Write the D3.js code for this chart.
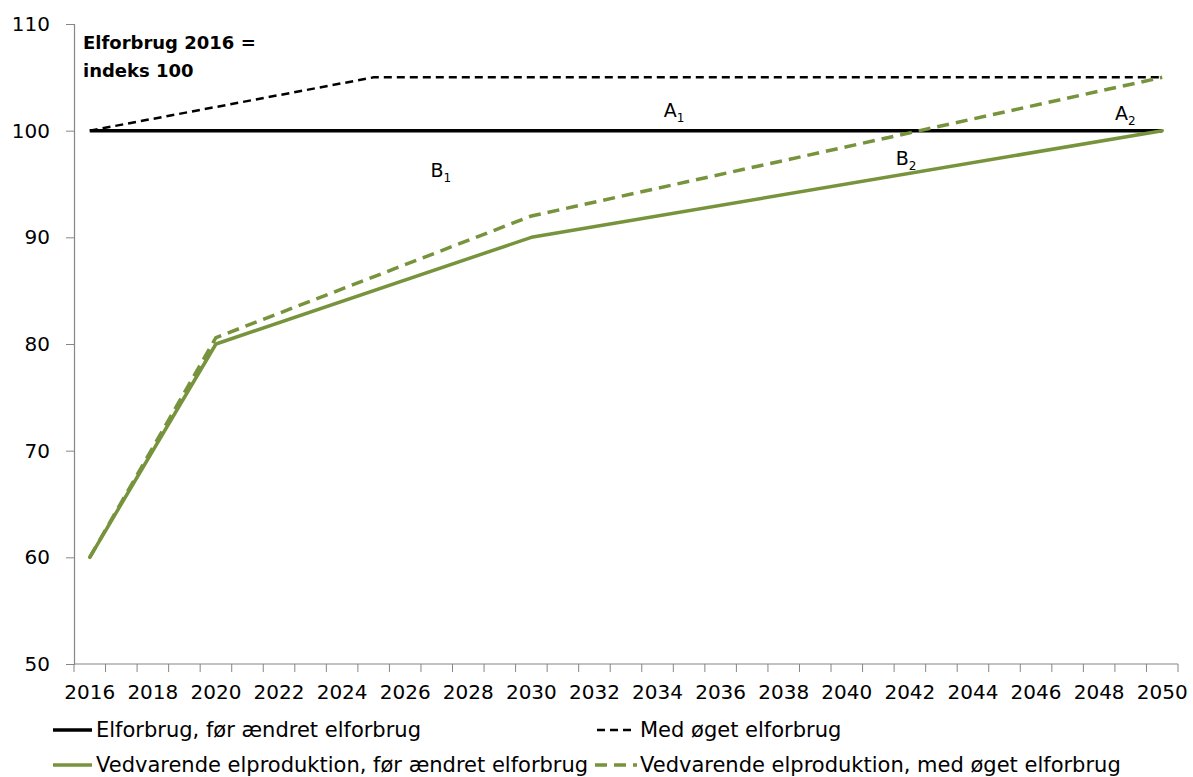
<!DOCTYPE html>
<html>
<head>
<meta charset="utf-8">
<script src="https://cdn.jsdelivr.net/npm/d3@7"></script>
<style>
  html, body { margin: 0; padding: 0; background: #fff; }
  svg { display: block; font-family: "DejaVu Sans", "Open Sans", sans-serif; }
</style>
</head>
<body>
<svg id="chart" width="1193" height="777"></svg>
<script>
// Years on the category axis and which of them carry a label
const years = d3.range(2016, 2051);
const yearLabels = years.filter(y => (y - 2016) % 2 === 0);
const yTicks = [50, 60, 70, 80, 90, 100, 110];

// Series as [year, index] break points; the lines run straight between them
const forbrugFoer = [[2016, 100], [2050, 100]];
const forbrugOeget = [[2016, 100], [2025, 105], [2050, 105]];
const veFoer = [[2016, 60], [2020, 80], [2030, 90], [2050, 100]];
const veOeget = [[2016, 60], [2020, 80.6], [2030, 92], [2050, 105]];

const seriesNames = [
  "Elforbrug, før ændret elforbrug",
  "Med øget elforbrug",
  "Vedvarende elproduktion, før ændret elforbrug",
  "Vedvarende elproduktion, med øget elforbrug"
];

// Area labels: [text, subscript, year, index]
const areaLabels = [
  ["A", "1", 2034.2, 101.3],
  ["B", "1", 2026.8, 95.7],
  ["B", "2", 2041.55, 96.8],
  ["A", "2", 2048.5, 101.0]
];

const green = "#77933C";
const axisGrey = "#868686";
const font = "'DejaVu Sans', sans-serif";

const svg = d3.select("#chart");
const plot = { left: 74, right: 1178, top: 24, bottom: 664 };

const x = d3.scaleBand().domain(years).range([plot.left, plot.right]).paddingInner(0).paddingOuter(0);
const bw = x.bandwidth();
const xc = yr => x(Math.floor(yr)) + bw / 2 + (yr - Math.floor(yr)) * bw;
const y = d3.scaleLinear().domain([50, 110]).range([plot.bottom, plot.top]);

// Y axis
const yAxis = svg.append("g").attr("transform", `translate(${plot.left},0)`)
  .call(d3.axisLeft(y).tickValues(yTicks).tickSize(8).tickPadding(16).tickFormat(d3.format("d")));
yAxis.select(".domain").attr("stroke", axisGrey).attr("stroke-width", 1.2);
yAxis.selectAll(".tick line").attr("stroke", axisGrey);
yAxis.selectAll(".tick text").attr("font-size", 20).attr("fill", "#000")
  .attr("font-family", font);

// X axis: ticks on category boundaries, labels on every other year
const xAxisG = svg.append("g").attr("transform", `translate(0,${plot.bottom})`);
xAxisG.append("line").attr("x1", plot.left).attr("x2", plot.right)
  .attr("stroke", axisGrey).attr("stroke-width", 1.2);
const boundaries = years.map(yr => x(yr)).concat([plot.right]);
xAxisG.selectAll("line.tk").data(boundaries).join("line").attr("class", "tk")
  .attr("x1", d => d).attr("x2", d => d).attr("y1", 0).attr("y2", 8)
  .attr("stroke", axisGrey);
xAxisG.selectAll("text").data(yearLabels).join("text")
  .attr("x", d => xc(d)).attr("y", 35).attr("text-anchor", "middle")
  .attr("font-size", 20).text(d => d);

// Lines
const line = d3.line().x(d => xc(d[0])).y(d => y(d[1]));
svg.append("path").datum(forbrugFoer).attr("d", line)
  .attr("fill", "none").attr("stroke", "#000").attr("stroke-width", 3.5);
svg.append("path").datum(forbrugOeget).attr("d", line)
  .attr("fill", "none").attr("stroke", "#000").attr("stroke-width", 2.5)
  .attr("stroke-dasharray", "8,5");
svg.append("path").datum(veFoer).attr("d", line)
  .attr("fill", "none").attr("stroke", green).attr("stroke-width", 3.5)
  .attr("stroke-linejoin", "round").attr("stroke-linecap", "round");
svg.append("path").datum(veOeget).attr("d", line)
  .attr("fill", "none").attr("stroke", green).attr("stroke-width", 3.5)
  .attr("stroke-dasharray", "12,7");

// Index note
const note = svg.append("text").attr("font-weight", "bold").attr("font-size", 18).attr("fill", "#000");
note.append("tspan").attr("x", 83).attr("y", 49).text("Elforbrug 2016 =");
note.append("tspan").attr("x", 83).attr("y", 77).text("indeks 100");

// Area labels with subscripts
areaLabels.forEach(([t, sub, yr, v]) => {
  const tx = svg.append("text").attr("x", xc(yr)).attr("y", y(v)).attr("font-size", 19).attr("fill", "#000");
  tx.append("tspan").text(t);
  tx.append("tspan").attr("font-size", 12).attr("dy", 5).text(sub);
});

// Legend
const legend = [
  { name: seriesNames[0], color: "#000", dash: null, w: 3.5, x0: 53, x1: 92, tx: 96, y: 730 },
  { name: seriesNames[1], color: "#000", dash: "8,5", w: 2.5, x0: 597, x1: 632, tx: 640, y: 730 },
  { name: seriesNames[2], color: green, dash: null, w: 3.5, x0: 53, x1: 92, tx: 96, y: 765 },
  { name: seriesNames[3], color: green, dash: "12,7", w: 3.5, x0: 595, x1: 637, tx: 640, y: 765 }
];
const lg = svg.append("g").selectAll("g").data(legend).join("g");
lg.append("line").attr("x1", d => d.x0).attr("x2", d => d.x1).attr("y1", d => d.y).attr("y2", d => d.y)
  .attr("stroke", d => d.color).attr("stroke-width", d => d.w)
  .attr("stroke-dasharray", d => d.dash);
lg.append("text").attr("x", d => d.tx).attr("y", d => d.y + 7).attr("font-size", 21)
  .attr("fill", "#000").text(d => d.name);
</script>
</body>
</html>
